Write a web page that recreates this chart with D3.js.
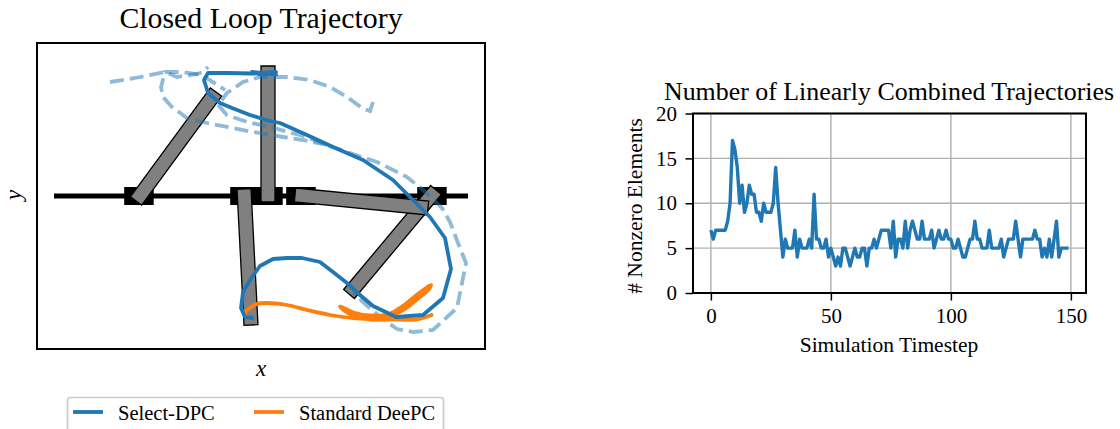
<!DOCTYPE html>
<html>
<head>
<meta charset="utf-8">
<script src="https://d3js.org/d3.v7.min.js"></script>
<style>
  html, body { margin: 0; padding: 0; background: #fff; overflow: hidden; }
  text { font-family: "Liberation Serif", serif; fill: #000; }
</style>
</head>
<body>
<div id="chart"></div>
<script>
// ---- data ----
var legendLabels = ["Select-DPC", "Standard DeePC"];
var timestepTicks = [0, 50, 100, 150];
var elementTicks = [0, 5, 10, 15, 20];

// cart centres along the track
var cartX = [-1.22, -0.16, 0.07, 0.40, 1.71];
// pole ends [x0, y0, x1, y1]
var poleA = [-1.25, -0.05, -0.45, 1.04];
var poleB = [-0.17, 0.07, -0.10, -1.29];
var poleC = [0.07, -0.06, 0.07, 1.30];
var poleE = [1.75, 0.06, 0.88, -0.98];
var poleD = [0.34, 0.01, 1.67, -0.12];

// closed loop Select-DPC
var selectX = [-0.09, -0.16, -0.20, -0.18, -0.09, -0.01, 0.12, 0.26, 0.41, 0.59, 0.72, 0.86, 0.99, 1.12, 1.35, 1.62, 1.82, 1.90, 1.84, 1.69, 1.52, 1.32, 1.02, 0.72, 0.46, 0.19, 0.09, -0.11, -0.29, -0.41, -0.53, -0.57, -0.53, -0.34, -0.09, 0.15, 0.01, -0.09, 0.15];
var selectY = [-1.22, -1.21, -1.12, -0.96, -0.81, -0.70, -0.63, -0.62, -0.62, -0.66, -0.76, -0.87, -0.99, -1.10, -1.21, -1.19, -1.02, -0.73, -0.42, -0.21, -0.04, 0.16, 0.36, 0.49, 0.61, 0.73, 0.75, 0.81, 0.88, 0.93, 1.03, 1.16, 1.23, 1.23, 1.225, 1.24, 1.21, 1.24, 1.215];

// closed loop Standard DeePC
var deepcX = [-0.14, -0.16, -0.11, -0.04, 0.06, 0.26, 0.46, 0.69, 0.92, 1.22, 1.43, 1.57, 1.68, 1.70, 1.55, 1.41, 1.28, 1.09, 0.94, 0.79, 0.86, 0.94, 1.09, 1.32, 1.55, 1.705];
var deepcY = [-1.21, -1.17, -1.12, -1.08, -1.07, -1.09, -1.14, -1.19, -1.22, -1.22, -1.135, -1.025, -0.93, -0.89, -0.995, -1.105, -1.18, -1.195, -1.17, -1.105, -1.165, -1.205, -1.235, -1.235, -1.235, -1.19];

// dashed reference pieces
var dashOneX = [1.12, 1.09, 1.01, 0.86, 0.69, 0.49, 0.26, -0.01, -0.18, -0.34, -0.43, -0.34, -0.14, 0.09, 0.42, 0.66, 0.86, 1.16, 1.46, 1.62, 1.81, 1.89, 1.97, 2.05, 1.99, 1.96, 1.72, 1.52, 1.36, 1.19, 1.02, 0.92];
var dashOneY = [0.94, 0.85, 0.88, 0.99, 1.09, 1.16, 1.19, 1.19, 1.14, 1.03, 0.91, 0.81, 0.74, 0.69, 0.60, 0.51, 0.44, 0.34, 0.19, 0.06, -0.12, -0.26, -0.47, -0.67, -0.97, -1.12, -1.34, -1.36, -1.33, -1.21, -1.06, -0.96];
var dashTwoX = [0.66, 0.42, 0.22, -0.08, -0.28, -0.54, -0.74, -0.89, -0.98, -1.00, -0.96, -0.79, -0.59, -0.36];
var dashTwoY = [0.51, 0.56, 0.59, 0.64, 0.68, 0.73, 0.78, 0.89, 0.99, 1.09, 1.24, 1.24, 1.21, 1.06];
var dashThreeX = [-1.51, -1.26, -0.96, -0.84, -0.64, -0.58, -0.53];
var dashThreeY = [1.14, 1.18, 1.24, 1.19, 1.22, 1.24, 1.29];

// number of nonzero elements per timestep
var nonzeroElements = [7, 6, 7, 7, 7, 7, 7, 8, 10, 17, 16, 14, 10, 12, 9, 10, 12, 11, 11, 9,
  9, 8, 10, 9, 9, 9, 10, 14, 10, 7, 4, 6, 5, 5, 5, 7, 4, 6, 5, 5,
  5, 6, 5, 11, 6, 6, 5, 5, 6, 4, 5, 4, 3, 4, 3, 5, 5, 4, 3, 4,
  5, 4, 4, 5, 5, 3, 5, 5, 6, 5, 6, 7, 7, 7, 7, 5, 8, 4, 6, 6,
  5, 8, 5, 7, 8, 7, 6, 6, 8, 6, 6, 6, 7, 5, 6, 7, 6, 6, 7, 6,
  6, 5, 5, 6, 5, 4, 4, 5, 6, 6, 8, 6, 6, 5, 5, 5, 7, 5, 5, 5,
  5, 6, 4, 5, 6, 6, 6, 8, 6, 4, 6, 6, 6, 6, 6, 7, 6, 6, 4, 5,
  4, 6, 4, 6, 8, 4, 5, 5, 5, 5];

// ---- chart set ups ----
var svgWidth = 1120;
var svgHeight = 429;
var blue = "#1f77b4";
var orange = "#ff7f0e";

var svg = d3.select("#chart").append("svg")
    .attr("width", svgWidth)
    .attr("height", svgHeight)
    .style("display", "block");

// ---- left panel ----
var leftBox = {left: 37, right: 485, top: 43, bottom: 349};
var xLeft = d3.scaleLinear().domain([-2.24, 2.24]).range([leftBox.left, leftBox.right]);
var yLeft = d3.scaleLinear().domain([-1.53, 1.53]).range([leftBox.bottom, leftBox.top]);

var leftGroup = svg.append("g");

// track
leftGroup.append("line")
    .attr("x1", xLeft(-2.07)).attr("x2", xLeft(2.07))
    .attr("y1", yLeft(0)).attr("y2", yLeft(0))
    .attr("stroke", "#000").attr("stroke-width", 5);

// carts
leftGroup.selectAll("rect.cart")
    .data(cartX)
    .enter()
    .append("rect")
    .attr("class", "cart")
    .attr("x", d => xLeft(d - 0.148))
    .attr("y", yLeft(0.09))
    .attr("width", xLeft(0.295) - xLeft(0))
    .attr("height", yLeft(0) - yLeft(0.18))
    .attr("fill", "#000");

// poles, gray bars with a thin black edge
function polePath(p) {
    var x0 = xLeft(p[0]), y0 = yLeft(p[1]), x1 = xLeft(p[2]), y1 = yLeft(p[3]);
    var len = Math.hypot(x1 - x0, y1 - y0);
    var nx = -(y1 - y0) / len * 7;
    var ny = (x1 - x0) / len * 7;
    return [[x0 + nx, y0 + ny], [x1 + nx, y1 + ny], [x1 - nx, y1 - ny], [x0 - nx, y0 - ny]];
}
leftGroup.selectAll("polygon.pole")
    .data([poleA, poleB, poleC, poleE, poleD])
    .enter()
    .append("polygon")
    .attr("class", "pole")
    .attr("points", d => polePath(d).join(" "))
    .attr("fill", "#808080")
    .attr("stroke", "#000")
    .attr("stroke-width", 1.3);

var lineLeft = d3.line().x(d => xLeft(d[0])).y(d => yLeft(d[1]));

[[dashOneX, dashOneY], [dashTwoX, dashTwoY], [dashThreeX, dashThreeY]].forEach(function(s) {
    leftGroup.append("path")
        .attr("d", lineLeft(d3.zip(s[0], s[1])))
        .attr("fill", "none")
        .attr("stroke", blue)
        .attr("stroke-opacity", 0.5)
        .attr("stroke-width", 3.8)
        .attr("stroke-dasharray", "14,6");
});

leftGroup.append("path")
    .attr("d", lineLeft.curve(d3.curveCatmullRom.alpha(0.5))(d3.zip(deepcX, deepcY)))
    .attr("fill", "none")
    .attr("stroke", orange)
    .attr("stroke-width", 3.8)
    .attr("stroke-linecap", "round")
    .attr("stroke-linejoin", "round");
lineLeft.curve(d3.curveLinear);

leftGroup.append("path")
    .attr("d", lineLeft(d3.zip(selectX, selectY)))
    .attr("fill", "none")
    .attr("stroke", blue)
    .attr("stroke-width", 3.8)
    .attr("stroke-linecap", "round")
    .attr("stroke-linejoin", "round");

leftGroup.append("rect")
    .attr("x", leftBox.left).attr("y", leftBox.top)
    .attr("width", leftBox.right - leftBox.left)
    .attr("height", leftBox.bottom - leftBox.top)
    .attr("fill", "none").attr("stroke", "#000").attr("stroke-width", 2);

leftGroup.append("text")
    .attr("x", 261).attr("y", 28)
    .attr("text-anchor", "middle")
    .attr("font-size", "29.8px")
    .text("Closed Loop Trajectory");
leftGroup.append("text")
    .attr("x", 261).attr("y", 376)
    .attr("text-anchor", "middle")
    .attr("font-size", "23px")
    .attr("font-style", "italic")
    .text("x");
leftGroup.append("text")
    .attr("transform", "translate(21,195) rotate(-90)")
    .attr("text-anchor", "middle")
    .attr("font-size", "23px")
    .attr("font-style", "italic")
    .text("y");

// legend, the box runs off the bottom edge
var legend = svg.append("g");
legend.append("rect")
    .attr("x", 67.5).attr("y", 397.5)
    .attr("width", 376).attr("height", 50)
    .attr("rx", 3)
    .attr("fill", "#fff").attr("stroke", "#ccc").attr("stroke-width", 1.7);
var legendItems = legend.selectAll("g")
    .data(legendLabels)
    .enter()
    .append("g")
    .attr("transform", (d, i) => `translate(${i === 0 ? 73 : 254},412)`);
legendItems.append("line")
    .attr("x1", 0).attr("x2", 30)
    .attr("stroke", (d, i) => i === 0 ? blue : orange)
    .attr("stroke-width", 3.8);
legendItems.append("text")
    .attr("x", 45).attr("y", 8)
    .attr("font-size", "20.5px")
    .text(d => d);

// ---- right panel ----
var rightBox = {left: 693, right: 1086, top: 113.5, bottom: 293};
var xRight = d3.scaleLinear().domain([-7.45, 156.3]).range([rightBox.left, rightBox.right]);
var yRight = d3.scaleLinear().domain([0, 20]).range([rightBox.bottom, rightBox.top]);
var rightGroup = svg.append("g");

// grid
rightGroup.selectAll("line.gridx")
    .data(timestepTicks)
    .enter()
    .append("line")
    .attr("class", "gridx")
    .attr("x1", d => xRight(d)).attr("x2", d => xRight(d))
    .attr("y1", rightBox.top).attr("y2", rightBox.bottom)
    .attr("stroke", "#b0b0b0").attr("stroke-width", 1.4);
rightGroup.selectAll("line.gridy")
    .data(elementTicks)
    .enter()
    .append("line")
    .attr("class", "gridy")
    .attr("x1", rightBox.left).attr("x2", rightBox.right)
    .attr("y1", d => yRight(d)).attr("y2", d => yRight(d))
    .attr("stroke", "#b0b0b0").attr("stroke-width", 1.4);

var lineRight = d3.line().x((d, i) => xRight(i)).y(d => yRight(d));
rightGroup.append("path")
    .attr("d", lineRight(nonzeroElements))
    .attr("fill", "none")
    .attr("stroke", blue)
    .attr("stroke-width", 3.4)
    .attr("stroke-linejoin", "round");

// axes
var bottomAxis = d3.axisBottom(xRight).tickValues(timestepTicks).tickSize(7.5).tickPadding(8);
var leftAxis = d3.axisLeft(yRight).tickValues(elementTicks).tickSize(7.5).tickPadding(8.5);
var xAxis = rightGroup.append("g")
    .attr("transform", `translate(0,${rightBox.bottom})`)
    .call(bottomAxis);
var yAxis = rightGroup.append("g")
    .attr("transform", `translate(${rightBox.left},0)`)
    .call(leftAxis);
[xAxis, yAxis].forEach(function(a) {
    a.select(".domain").remove();
    a.selectAll(".tick line").attr("stroke", "#000").attr("stroke-width", 1.5);
    a.selectAll("text").attr("font-size", "21px").attr("font-family", "Liberation Serif").attr("fill", "#000");
});

rightGroup.append("rect")
    .attr("x", rightBox.left).attr("y", rightBox.top)
    .attr("width", rightBox.right - rightBox.left)
    .attr("height", rightBox.bottom - rightBox.top)
    .attr("fill", "none").attr("stroke", "#000").attr("stroke-width", 2);

rightGroup.append("text")
    .attr("x", 889).attr("y", 100)
    .attr("text-anchor", "middle")
    .attr("font-size", "25.9px")
    .text("Number of Linearly Combined Trajectories");
rightGroup.append("text")
    .attr("x", 889).attr("y", 351.5)
    .attr("text-anchor", "middle")
    .attr("font-size", "21.5px")
    .text("Simulation Timestep");
rightGroup.append("text")
    .attr("transform", "translate(642,206) rotate(-90)")
    .attr("text-anchor", "middle")
    .attr("font-size", "21.5px")
    .text("# Nonzero Elements");
</script>
</body>
</html>
